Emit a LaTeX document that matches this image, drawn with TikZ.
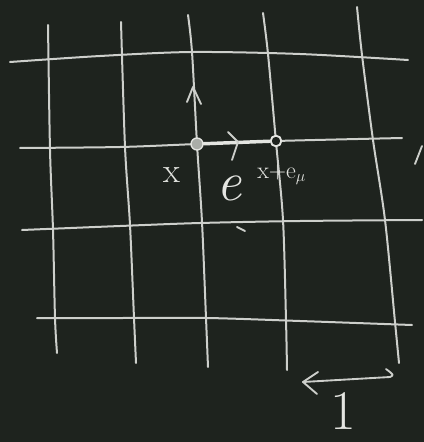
\documentclass[tikz,border=0pt]{standalone}
\usetikzlibrary{calc}
\definecolor{board}{RGB}{30,35,30}
\definecolor{chalk}{RGB}{205,207,203}
\definecolor{chalkbright}{RGB}{228,229,225}
\tikzset{
  gridline/.style={draw=chalk, line width=1.5pt, line cap=round, line join=round},
  linkline/.style={draw=chalkbright, line width=2.6pt, line cap=round},
  chev/.style={draw=chalk, line width=1.4pt, line cap=round, line join=round},
  vfill/.style={circle, fill=chalk!80!board, draw=chalkbright, line width=1pt, minimum size=9pt, inner sep=0pt},
  vring/.style={circle, fill=board, draw=chalkbright, line width=1.4pt, minimum size=8pt, inner sep=0pt},
  lab/.style={text=chalkbright, inner sep=0pt}
}
\begin{document}
\begin{tikzpicture}[x=0.75pt, y=-0.75pt]
\fill[board] (0,0) rectangle (424,442);
\useasboundingbox (0,0) rectangle (424,442);
% horizontal lines
\draw[gridline] plot[smooth] coordinates {(10,62) (100,56) (192,52) (300,54) (408,60)};
\draw[gridline] plot[smooth] coordinates {(20,148) (120,147) (197,144) (276,141) (402,138)};
\draw[gridline] plot[smooth] coordinates {(22,230) (120,226) (200,223) (300,221) (422,220)};
\draw[gridline] plot[smooth] coordinates {(37,318) (120,318) (207,318) (300,321) (412,325)};
% vertical lines
\draw[gridline] plot[smooth] coordinates {(48,25) (50,150) (53,230) (55,318) (57,353)};
\draw[gridline] plot[smooth] coordinates {(121,22) (125,147) (130,225) (134,318) (136,363)};
\draw[gridline] plot[smooth] coordinates {(188,15) (192,52) (197,144) (202,222) (206,318) (208,367)};
\draw[gridline] plot[smooth] coordinates {(263,13) (268,54) (276,142) (283,220) (286,320) (287,370)};
\draw[gridline] plot[smooth] coordinates {(357,7) (362,55) (373,140) (385,220) (395,322) (399,363)};
% sites and link
\node[vfill] (x) at (197,144) {};
\node[vring] (xe) at (276,141) {};
\draw[linkline] (x) -- (xe);
% arrows on links
\draw[chev] (228,132) -- (238,142) -- (232,160);
\draw[chev] (187,102) -- (193,87) -- (201,104);
% labels
\node[lab, font=\fontsize{26}{26}\selectfont] (lx) at (172,175) {x};
\node[lab, font=\fontsize{42}{42}\selectfont\itshape] (le) at (229,188) {e};
\node[lab, font=\fontsize{18}{18}\selectfont, anchor=west] (lxe) at (257,175) {x+e$_\mu$};
% small marks
\draw[chev] (237,227) -- (245,231);
\draw[chev] (415,164) -- (422,146);
% unit scale arrow
\coordinate (ua) at (303,382);
\coordinate (ub) at (390,377);
\draw[chev] (ua) -- (ub) .. controls (394,375) .. (386,369);
\draw[chev] (318,372) -- (ua) -- (317,394);
\node[lab, font=\fontsize{42}{42}\selectfont] (one) at (343,411) {1};
\end{tikzpicture}
\end{document}
